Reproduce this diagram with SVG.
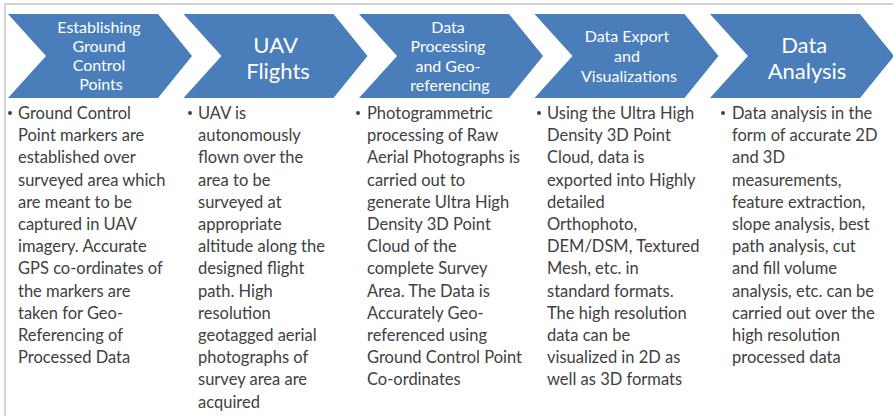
<svg xmlns="http://www.w3.org/2000/svg" width="893" height="417" viewBox="0 0 893 417">
  <style>
    .chev { fill: #4a7ebb; }
    .title { font-family: Lato, "Open Sans", sans-serif; fill: #ffffff; text-anchor: middle; }
    .t-sm { font-size: 16px; }
    .t-lg { font-size: 22px; }
    .body { font-family: Lato, "Open Sans", sans-serif; font-size: 16.5px; fill: #404040; }
    .dot { fill: #404040; }
    .frame { stroke: #d4d4d4; stroke-width: 2; fill: none; }
  </style>

  <rect width="893" height="417" fill="#ffffff"/>
  <path class="frame" d="M5,416 V4 H893"/>

  <!-- step 1 -->
  <g id="step-gcp">
    <polygon class="chev" points="8,14 158,14 192,56 158,98 8,98 46,56"/>
    <text class="title t-sm" x="101">
      <tspan x="101" y="33">Establishing</tspan>
      <tspan x="101" y="52">Ground</tspan>
      <tspan x="101" y="71">Control</tspan>
      <tspan x="101" y="90">Points</tspan>
    </text>
    <circle class="dot" cx="10" cy="113" r="2"/>
    <text class="body">
      <tspan x="18" y="119">Ground Control</tspan>
      <tspan x="18" dy="22.2">Point markers are</tspan>
      <tspan x="18" dy="22.2">established over</tspan>
      <tspan x="18" dy="22.2">surveyed area which</tspan>
      <tspan x="18" dy="22.2">are meant to be</tspan>
      <tspan x="18" dy="22.2">captured in UAV</tspan>
      <tspan x="18" dy="22.2">imagery. Accurate</tspan>
      <tspan x="18" dy="22.2">GPS co-ordinates of</tspan>
      <tspan x="18" dy="22.2">the markers are</tspan>
      <tspan x="18" dy="22.2">taken for Geo-</tspan>
      <tspan x="18" dy="22.2">Referencing of</tspan>
      <tspan x="18" dy="22.2">Processed Data</tspan>
    </text>
  </g>

  <!-- step 2 -->
  <g id="step-flights">
    <polygon class="chev" points="183.5,14 333.5,14 367.5,56 333.5,98 183.5,98 221.5,56"/>
    <text class="title t-lg">
      <tspan x="278" y="53">UAV</tspan>
      <tspan x="278" y="79">Flights</tspan>
    </text>
    <circle class="dot" cx="190" cy="113" r="2"/>
    <text class="body">
      <tspan x="198" y="119">UAV is</tspan>
      <tspan x="198" dy="22.2">autonomously</tspan>
      <tspan x="198" dy="22.2">flown over the</tspan>
      <tspan x="198" dy="22.2">area to be</tspan>
      <tspan x="198" dy="22.2">surveyed at</tspan>
      <tspan x="198" dy="22.2">appropriate</tspan>
      <tspan x="198" dy="22.2">altitude along the</tspan>
      <tspan x="198" dy="22.2">designed flight</tspan>
      <tspan x="198" dy="22.2">path. High</tspan>
      <tspan x="198" dy="22.2">resolution</tspan>
      <tspan x="198" dy="22.2">geotagged aerial</tspan>
      <tspan x="198" dy="22.2">photographs of</tspan>
      <tspan x="198" dy="22.2">survey area are</tspan>
      <tspan x="198" dy="22.2">acquired</tspan>
    </text>
  </g>

  <!-- step 3 -->
  <g id="step-processing">
    <polygon class="chev" points="359,14 509,14 543,56 509,98 359,98 397,56"/>
    <text class="title t-sm">
      <tspan x="450" y="33">Data</tspan>
      <tspan x="450" y="52">Processing</tspan>
      <tspan x="450" y="72">and Geo-</tspan>
      <tspan x="450" y="91">referencing</tspan>
    </text>
    <circle class="dot" cx="358" cy="113" r="2"/>
    <text class="body">
      <tspan x="367" y="119">Photogrammetric</tspan>
      <tspan x="367" dy="22.2">processing of Raw</tspan>
      <tspan x="367" dy="22.2">Aerial Photographs is</tspan>
      <tspan x="367" dy="22.2">carried out to</tspan>
      <tspan x="367" dy="22.2">generate Ultra High</tspan>
      <tspan x="367" dy="22.2">Density 3D Point</tspan>
      <tspan x="367" dy="22.2">Cloud of the</tspan>
      <tspan x="367" dy="22.2">complete Survey</tspan>
      <tspan x="367" dy="22.2">Area. The Data is</tspan>
      <tspan x="367" dy="22.2">Accurately Geo-</tspan>
      <tspan x="367" dy="22.2">referenced using</tspan>
      <tspan x="367" dy="22.2">Ground Control Point</tspan>
      <tspan x="367" dy="22.2">Co-ordinates</tspan>
    </text>
  </g>

  <!-- step 4 -->
  <g id="step-export">
    <polygon class="chev" points="534.5,14 684.5,14 718.5,56 684.5,98 534.5,98 572.5,56"/>
    <text class="title t-sm">
      <tspan x="629" y="42">Data Export</tspan>
      <tspan x="629" y="62">and</tspan>
      <tspan x="629" y="82">Visualizations</tspan>
    </text>
    <circle class="dot" cx="539" cy="113" r="2"/>
    <text class="body">
      <tspan x="547" y="119">Using the Ultra High</tspan>
      <tspan x="547" dy="22.2">Density 3D Point</tspan>
      <tspan x="547" dy="22.2">Cloud, data is</tspan>
      <tspan x="547" dy="22.2">exported into Highly</tspan>
      <tspan x="547" dy="22.2">detailed</tspan>
      <tspan x="547" dy="22.2">Orthophoto,</tspan>
      <tspan x="547" dy="22.2">DEM/DSM, Textured</tspan>
      <tspan x="547" dy="22.2">Mesh, etc. in</tspan>
      <tspan x="547" dy="22.2">standard formats.</tspan>
      <tspan x="547" dy="22.2">The high resolution</tspan>
      <tspan x="547" dy="22.2">data can be</tspan>
      <tspan x="547" dy="22.2">visualized in 2D as</tspan>
      <tspan x="547" dy="22.2">well as 3D formats</tspan>
    </text>
  </g>

  <!-- step 5 -->
  <g id="step-analysis">
    <polygon class="chev" points="710,14 860,14 894,56 860,98 710,98 748,56"/>
    <text class="title t-lg">
      <tspan x="807" y="53">Data</tspan>
      <tspan x="807" y="79">Analysis</tspan>
    </text>
    <circle class="dot" cx="723" cy="113" r="2"/>
    <text class="body">
      <tspan x="732" y="119">Data analysis in the</tspan>
      <tspan x="732" dy="22.2">form of accurate 2D</tspan>
      <tspan x="732" dy="22.2">and 3D</tspan>
      <tspan x="732" dy="22.2">measurements,</tspan>
      <tspan x="732" dy="22.2">feature extraction,</tspan>
      <tspan x="732" dy="22.2">slope analysis, best</tspan>
      <tspan x="732" dy="22.2">path analysis, cut</tspan>
      <tspan x="732" dy="22.2">and fill volume</tspan>
      <tspan x="732" dy="22.2">analysis, etc. can be</tspan>
      <tspan x="732" dy="22.2">carried out over the</tspan>
      <tspan x="732" dy="22.2">high resolution</tspan>
      <tspan x="732" dy="22.2">processed data</tspan>
    </text>
  </g>

  <!-- no connectors: the chevrons themselves carry the flow -->
  <g id="connectors"/>
</svg>
